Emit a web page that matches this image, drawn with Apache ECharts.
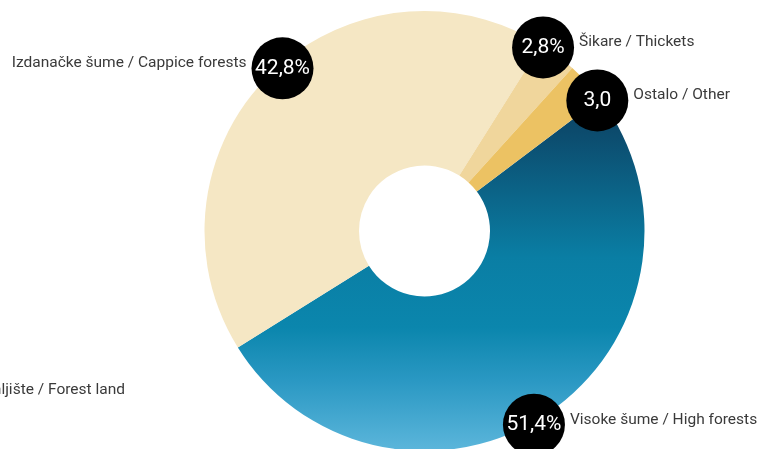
<!DOCTYPE html>
<html>
<head>
<meta charset="utf-8">
<script src="https://cdn.jsdelivr.net/npm/echarts@6/dist/echarts.min.js"></script>
<style>
html,body{margin:0;padding:0;background:#fff;}
#chart{width:757px;height:449px;}
</style>
</head>
<body>
<div id="chart"></div>
<script>
const categories = ['Visoke šume / High forests', 'Izdanačke šume / Cappice forests', 'Šikare / Thickets', 'Ostalo / Other'];
const values = [51.4, 42.8, 2.8, 3.0];
const valueLabels = ['51,4%', '42,8%', '2,8%', '3,0'];
const outsideText = 'Šumsko zemljište / Forest land';

const FONT = 'Roboto, "Liberation Sans", sans-serif';
const START = 37;        // slices
const LABEL_START = 32.5; // badge ring
const total = values.reduce((a, b) => a + b, 0);
let cum = 0;
const rightSide = values.map(v => {
  const mid = (LABEL_START - 360 * (cum + v / 2) / total) * Math.PI / 180;
  cum += v;
  return Math.cos(mid) >= 0;
});

const blueGrad = {
  type: 'linear', x: 0, y: 0, x2: 0, y2: 1,
  colorStops: [
    { offset: 0, color: '#0b4263' },
    { offset: 0.1, color: '#0c4c6e' },
    { offset: 0.45, color: '#0a7ea4' },
    { offset: 0.65, color: '#0b86ad' },
    { offset: 0.8, color: '#2a98c3' },
    { offset: 1, color: '#5cb6db' }
  ]
};
const colors = [blueGrad, '#f5e7c4', '#f0d69c', '#ecc263'];

const chart = echarts.init(document.getElementById('chart'), null, { renderer: 'canvas' });
chart.setOption({
  backgroundColor: '#ffffff',
  animation: false,
  textStyle: { fontFamily: FONT },
  graphic: [{
    type: 'text',
    x: 125, y: 390,
    style: {
      text: outsideText,
      font: '15.5px ' + FONT,
      fill: '#3a3a3a',
      align: 'right', textAlign: 'right',
      verticalAlign: 'middle', textVerticalAlign: 'middle'
    }
  }],
  series: [
    {
      type: 'pie',
      center: [424.5, 231],
      radius: [65.5, 220],
      startAngle: START,
      clockwise: true,
      silent: true,
      label: { show: false },
      labelLine: { show: false },
      itemStyle: { borderWidth: 0 },
      data: categories.map((c, i) => ({ name: c, value: values[i], itemStyle: { color: colors[i] } }))
    },
    {
      type: 'pie',
      center: [424.5, 231],
      radius: [212, 220],
      startAngle: LABEL_START,
      clockwise: true,
      silent: true,
      z: 5,
      itemStyle: { color: 'rgba(0,0,0,0)' },
      label: {
        show: true,
        position: 'inside',
        rotate: 0,
        formatter: p => rightSide[p.dataIndex]
          ? '{c|' + valueLabels[p.dataIndex] + '}{n|' + p.name + '}'
          : '{n|' + p.name + '}{c|' + valueLabels[p.dataIndex] + '}',
        rich: {
          c: {
            width: 62, height: 62, lineHeight: 62, borderRadius: 31,
            backgroundColor: '#000', color: '#fff', fontSize: 21,
            fontFamily: FONT, align: 'center', verticalAlign: 'middle'
          },
          n: {
            fontSize: 15.5, color: '#3a3a3a', fontFamily: FONT,
            padding: [0, 5, 10, 5], verticalAlign: 'middle'
          }
        }
      },
      labelLine: { show: false },
      labelLayout: function (params) {
        const i = params.dataIndex;
        const r = rightSide[i];
        const res = { align: r ? 'left' : 'right', verticalAlign: 'middle', dx: r ? -31 : 31, dy: 4 };
        if (i === 2) { res.dx += -27; res.dy += -24; }
        return res;
      },
      data: categories.map((c, i) => ({ name: c, value: values[i] }))
    }
  ]
});
</script>
</body>
</html>
